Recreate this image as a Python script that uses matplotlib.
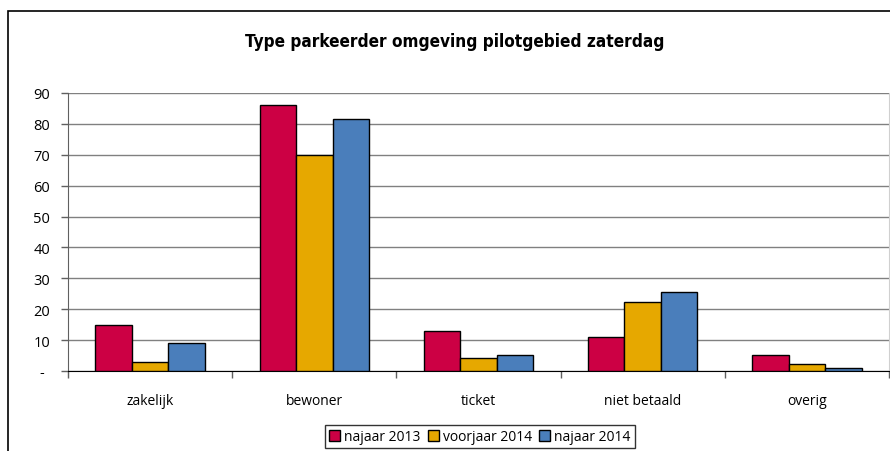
import matplotlib
matplotlib.use("Agg")
import matplotlib.pyplot as plt
import numpy as np
from matplotlib.patches import Rectangle

categories = ["zakelijk", "bewoner", "ticket", "niet betaald", "overig"]
series_names = ["najaar 2013", "voorjaar 2014", "najaar 2014"]
najaar_2013 = [15.0, 86.0, 13.0, 10.9, 5.1]
voorjaar_2014 = [2.9, 70.0, 4.1, 22.2, 2.2]
najaar_2014 = [9.2, 81.6, 5.1, 25.5, 0.9]
colors = ["#CC0044", "#E6A800", "#4A7EBB"]
yticks = [0, 10, 20, 30, 40, 50, 60, 70, 80, 90]
ytick_labels = ["-", "10", "20", "30", "40", "50", "60", "70", "80", "90"]

plt.rcParams['font.family'] = ['Open Sans', 'DejaVu Sans']

W, H = 890, 452
fig = plt.figure(figsize=(W / 100, H / 100), dpi=100)
fig.patch.set_facecolor("white")

# outer frame (cropped on right and bottom)
fig.add_artist(Rectangle((8 / W, -0.1), 1.2, 1 - 12 / H + 0.1, transform=fig.transFigure,
                         fill=False, edgecolor="black", linewidth=1.2))

ax = fig.add_axes([68 / W, 1 - 372 / H, (889 - 68) / W, (372 - 94) / H])
x = np.arange(len(categories))
bw = 0.222
for i, (vals, c, name) in enumerate(zip([najaar_2013, voorjaar_2014, najaar_2014], colors, series_names)):
    ax.bar(x + (i - 1) * bw, vals, width=bw, color=c, edgecolor="black", linewidth=1.0,
           label=name, zorder=3)

ax.set_xlim(-0.5, len(categories) - 0.5)
ax.set_ylim(0, 90)
ax.set_yticks(yticks)
ax.set_yticklabels(ytick_labels, fontsize=10.5)
ax.yaxis.grid(True, color="#808080", linewidth=1.0, zorder=0)
ax.set_axisbelow(True)

ax.set_xticks(x)
ax.set_xticklabels(categories, fontsize=10)
ax.set_xticks(np.arange(len(categories) + 1) - 0.5, minor=True)
ax.tick_params(axis="x", which="major", length=0, pad=16)
ax.tick_params(axis="x", which="minor", length=5, color="#606060", width=1)
ax.tick_params(axis="y", length=5, color="#606060", width=1, pad=14)
for lab in ax.get_yticklabels():
    lab.set_horizontalalignment("center")

ax.spines["top"].set_visible(False)
ax.spines["right"].set_visible(True)
ax.spines["right"].set_color("#d0d0d0")
ax.spines["left"].set_color("#606060")
ax.spines["bottom"].set_color("black")

fig.text(455 / W, 1 - 42 / H, "Type parkeerder omgeving pilotgebied zaterdag",
         ha="center", va="center", fontsize=12.3, fontweight="bold", fontstretch="condensed",
         family=["DejaVu Sans"])

leg = fig.legend(loc="upper center", bbox_to_anchor=(480 / W, 1 - 426 / H), ncol=3,
                 fontsize=10, frameon=True, fancybox=False, edgecolor="black",
                 handlelength=0.8, handleheight=0.8, handletextpad=0.3, columnspacing=0.5,
                 borderpad=0.3, borderaxespad=0)
leg.get_frame().set_linewidth(1.0)

fig.savefig("out.png", dpi=100)
